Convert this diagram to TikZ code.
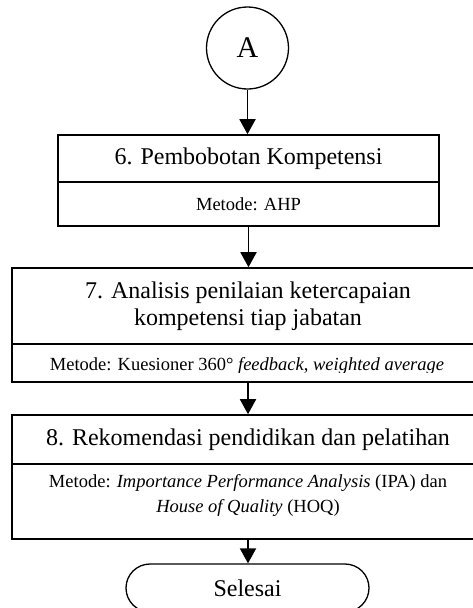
\documentclass[tikz,border=0pt]{standalone}
\usepackage{fontspec}
\setmainfont{Liberation Serif}
\usetikzlibrary{arrows.meta,shapes.misc}
\tikzset{
  partbox/.style={draw, line width=1.6pt, inner sep=0pt, rectangle},
  title/.style={font=\fontsize{24}{27}\selectfont, align=center},
  method/.style={font=\fontsize{18.5}{25}\selectfont, align=center},
  flow/.style={line width=1.9pt, -{Triangle[width=16pt,length=15pt]}},
  conn/.style={draw, circle, line width=1.3pt, minimum size=82pt, inner sep=0pt, font=\fontsize{30}{30}\selectfont},
  term/.style={draw, rounded rectangle, line width=1.3pt, minimum width=243pt, minimum height=48pt, inner sep=0pt, font=\fontsize{24}{24}\selectfont}
}
\begin{document}
\begin{tikzpicture}[x=1pt,y=-1pt]
\clip (0,0) rectangle (473,608);
% connector A
\node[conn] (A) at (247.5,48) {A};
% box 6
\node[partbox, minimum width=381pt, minimum height=47pt] (b6t) at (248.5,158.5) {};
\node[title] at (b6t.center) {6. Pembobotan Kompetensi};
\node[partbox, minimum width=381pt, minimum height=44pt] (b6b) at (248.5,204) {};
\node[method] at (b6b.center) {Metode: AHP};
% box 7
\node[partbox, minimum width=472pt, minimum height=76pt] (b7t) at (248,306) {};
\node[title] at (b7t.center) {7. Analisis penilaian ketercapaian\\kompetensi tiap jabatan};
\node[partbox, minimum width=472pt, minimum height=38pt] (b7b) at (248,363) {};
\begin{scope}
\clip (12,344) rectangle (484,372);
\node[method, anchor=base] at (247,370) {Metode: Kuesioner 360° \textit{feedback}, \textit{weighted average}};
\end{scope}
% box 8
\node[partbox, minimum width=472pt, minimum height=49pt] (b8t) at (248,439.5) {};
\node[title] at (b8t.center) {8. Rekomendasi pendidikan dan pelatihan};
\node[partbox, minimum width=472pt, minimum height=75pt] (b8b) at (248,501.5) {};
\node[method] at (248,495.5) {Metode: \textit{Importance Performance Analysis} (IPA) dan\\\textit{House of Quality} (HOQ)};
% terminal
\node[term] (end) at (247.5,588) {Selesai};
% arrows
\draw[flow] (A.south) -- (A.south |- b6t.north);
\draw[flow] (b6b.south) -- (b6b.south |- b7t.north);
\draw[flow] (b7b.south) -- (b7b.south |- b8t.north);
\draw[flow] (b8b.south) -- (b8b.south |- end.north);
\end{tikzpicture}
\end{document}
